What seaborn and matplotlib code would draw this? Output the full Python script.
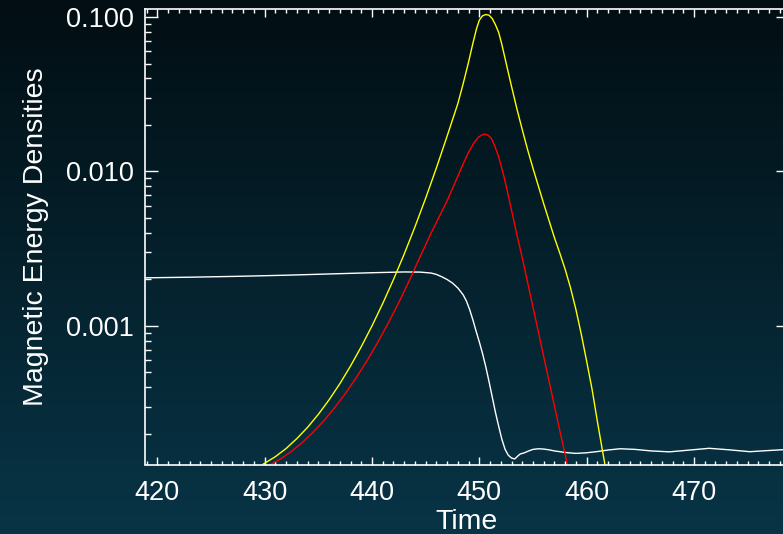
import numpy as np
import pandas as pd
import seaborn as sns
import matplotlib
matplotlib.use("Agg")
import matplotlib.pyplot as plt
from matplotlib.ticker import MultipleLocator, LogLocator, FuncFormatter, NullFormatter


# Curva branca: tempo e log10 da densidade
tempo_branco = [418.85, 423.0, 427.7, 432.0, 436.0, 440.0, 443.0, 444.5, 445.5, 446.0,
                446.5, 447.0, 447.5, 448.0, 448.5, 448.8, 449.1, 449.4, 449.7, 450.0,
                450.3, 450.6, 450.9, 451.2, 451.5, 451.8, 452.1, 452.4, 452.7, 453.0,
                453.3, 453.55, 453.8, 454.2, 454.6, 455.0, 455.5, 456.0, 456.5, 457.0,
                458.0, 459.0, 460.0, 461.0, 462.0, 463.1, 464.5, 466.0, 467.7, 469.5,
                471.4, 473.3, 475.2, 476.8, 478.85]
log_branco = [-2.689, -2.685, -2.679, -2.672, -2.664, -2.656, -2.651, -2.652, -2.658, -2.667,
              -2.682, -2.700, -2.723, -2.755, -2.800, -2.840, -2.895, -2.962, -3.035, -3.105,
              -3.180, -3.265, -3.360, -3.460, -3.560, -3.650, -3.735, -3.800, -3.838, -3.856,
              -3.862, -3.845, -3.830, -3.822, -3.810, -3.800, -3.796, -3.798, -3.803, -3.810,
              -3.820, -3.826, -3.822, -3.814, -3.804, -3.796, -3.800, -3.810, -3.816, -3.805,
              -3.793, -3.803, -3.815, -3.808, -3.800]

# Curva amarela
tempo_amarelo = [429.85, 431.0, 432.0, 433.0, 434.0, 435.0, 436.0, 437.0, 438.0, 439.0,
                 440.0, 441.0, 442.0, 443.0, 444.0, 445.0, 446.0, 447.0, 448.0, 448.5,
                 449.0, 449.4, 449.74, 450.0, 450.3, 450.6, 450.9, 451.2, 451.5, 451.8,
                 452.07, 452.5, 453.0, 453.5, 454.0, 454.5, 455.0, 455.5, 456.0, 456.5,
                 457.0, 457.5, 458.0, 458.5, 459.0, 459.5, 460.0, 460.5, 461.0, 461.5,
                 461.7]
log_amarelo = [-3.896, -3.847, -3.794, -3.730, -3.657, -3.573, -3.479, -3.375, -3.260, -3.135,
               -3.000, -2.855, -2.700, -2.535, -2.359, -2.173, -1.977, -1.771, -1.560, -1.430,
               -1.290, -1.170, -1.075, -1.020, -0.992, -0.984, -0.988, -1.010, -1.050, -1.100,
               -1.170, -1.300, -1.450, -1.595, -1.730, -1.860, -1.980, -2.095, -2.210, -2.320,
               -2.430, -2.530, -2.635, -2.755, -2.895, -3.055, -3.230, -3.410, -3.620, -3.820,
               -3.898]

# Curva vermelha
tempo_vermelho = [430.56, 431.5, 432.5, 433.5, 434.5, 435.5, 436.5, 437.5, 438.5, 439.5,
                  440.5, 441.5, 442.5, 443.5, 444.5, 445.0, 445.5, 446.0, 446.5, 447.0,
                  447.5, 448.0, 448.5, 449.0, 449.5, 449.9, 450.2, 450.5, 450.8, 451.1,
                  451.4, 451.7, 452.0, 452.3, 452.6, 452.9, 453.2, 453.5, 454.0, 454.5,
                  455.0, 455.5, 456.0, 456.5, 457.0, 457.5, 458.0, 458.2]
log_vermelho = [-3.898, -3.861, -3.813, -3.756, -3.690, -3.616, -3.532, -3.440, -3.339, -3.230,
                -3.111, -2.984, -2.848, -2.703, -2.549, -2.475, -2.400, -2.330, -2.260, -2.190,
                -2.110, -2.030, -1.950, -1.875, -1.815, -1.780, -1.765, -1.758, -1.765, -1.785,
                -1.830, -1.885, -1.955, -2.035, -2.125, -2.220, -2.315, -2.410, -2.560, -2.720,
                -2.880, -3.040, -3.200, -3.360, -3.520, -3.680, -3.835, -3.898]

energia_branca = [10 ** v for v in log_branco]
energia_amarela = [10 ** v for v in log_amarelo]
energia_vermelha = [10 ** v for v in log_vermelho]

sns.set_style("ticks")
plt.rcParams["font.family"] = ["Liberation Sans", "DejaVu Sans"]

W, H = 783, 534
fig = plt.figure(figsize=(W / 100, H / 100), dpi=100)

# Fundo em degradê
fundo = fig.add_axes([0, 0, 1, 1], zorder=0)
topo = np.array([0.008, 0.055, 0.075])
base = np.array([0.030, 0.205, 0.275])
frac = np.linspace(0, 1, 256)[:, None]
grad = (topo * (1 - frac) + base * frac)[:, None, :]
fundo.imshow(grad, aspect="auto", extent=[0, 1, 0, 1])
fundo.axis("off")

ax = fig.add_axes([145 / W, 69.5 / H, 644 / W, 455.5 / H], zorder=1)
ax.patch.set_alpha(0)

sns.lineplot(x=tempo_branco, y=energia_branca, color="white", lw=1.0, ax=ax)
sns.lineplot(x=tempo_amarelo, y=energia_amarela, color="#ffff00", lw=1.0, ax=ax)
sns.lineplot(x=tempo_vermelho, y=energia_vermelha, color="#ff0000", lw=1.0, ax=ax)

ax.set_yscale("log")
ax.set_xlim(418.85, 478.85)
ax.set_ylim(1.265e-4, 0.1127)

ax.xaxis.set_major_locator(MultipleLocator(10))
ax.xaxis.set_minor_locator(MultipleLocator(1))
ax.yaxis.set_major_locator(LogLocator(base=10))
ax.yaxis.set_minor_locator(LogLocator(base=10, subs=range(2, 10)))
ax.yaxis.set_major_formatter(FuncFormatter(lambda v, p: f"{v:.3f}"))
ax.yaxis.set_minor_formatter(NullFormatter())

for s in ax.spines.values():
    s.set_color("white")
    s.set_linewidth(1.2)

ax.tick_params(axis="x", which="major", direction="in", top=True, bottom=True,
               length=5.8, width=1, color="white", labelcolor="white", labelsize=19.5, pad=11)
ax.tick_params(axis="x", which="minor", direction="in", top=True, bottom=True,
               length=2.9, width=1, color="white")
ax.tick_params(axis="y", which="major", direction="in", left=True, right=True,
               length=9.4, width=1, color="white", labelcolor="white", labelsize=19.5, pad=8)
ax.tick_params(axis="y", which="minor", direction="in", left=True, right=True,
               length=4.3, width=1, color="white")

ax.set_xlabel("Time", color="white", fontsize=20.5, labelpad=2)
ax.set_ylabel("Magnetic Energy Densities", color="white", fontsize=20.5, labelpad=12)

fig.savefig("out.png", dpi=100)
